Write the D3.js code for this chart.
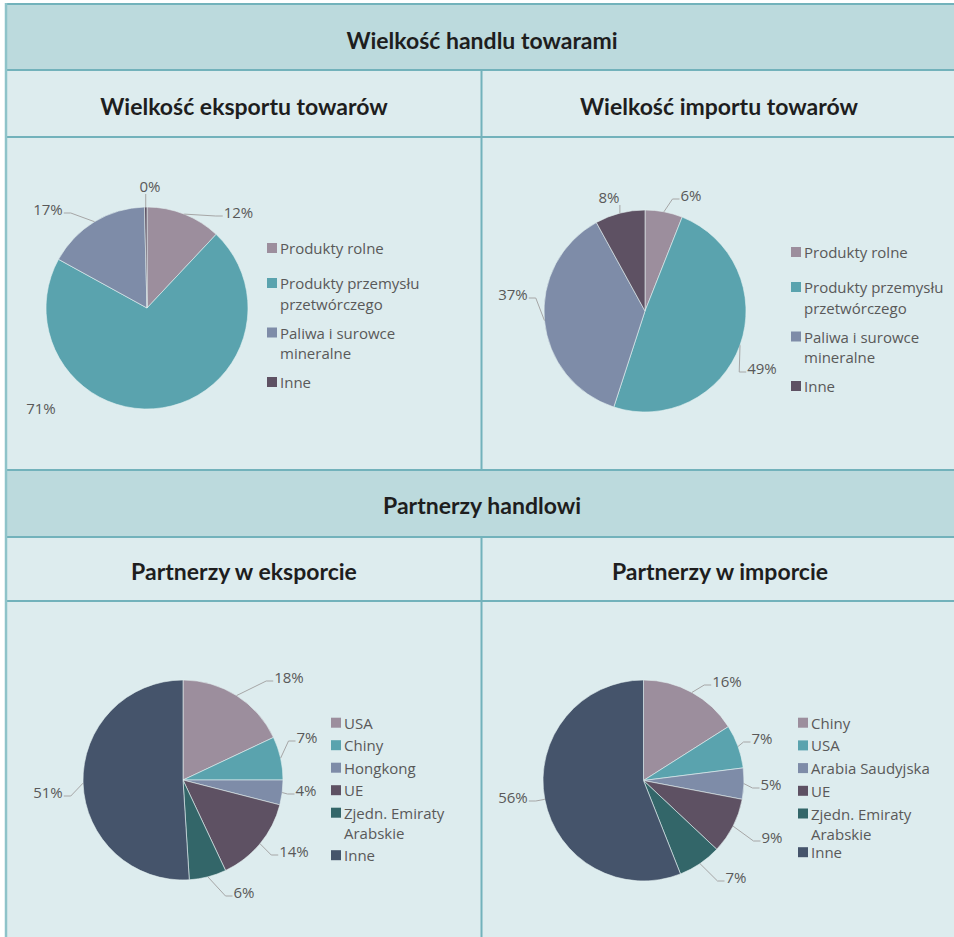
<!DOCTYPE html>
<html>
<head>
<meta charset="utf-8">
<script src="https://cdn.jsdelivr.net/npm/d3@7"></script>
<style>
  body { margin: 0; background: #ffffff; }
  svg { display: block; }
</style>
</head>
<body>
<svg id="chart" width="954" height="937"></svg>
<script>
// ---- data ----
const goodsCategories = ["Produkty rolne", "Produkty przemysłu przetwórczego", "Paliwa i surowce mineralne", "Inne"];
const exportGoodsShares = [12, 71, 16.6, 0.4];
const importGoodsShares = [6, 49, 37, 8];

const exportPartners = ["USA", "Chiny", "Hongkong", "UE", "Zjedn. Emiraty Arabskie", "Inne"];
const exportPartnerShares = [18, 7, 4, 14, 6, 51];

const importPartners = ["Chiny", "USA", "Arabia Saudyjska", "UE", "Zjedn. Emiraty Arabskie", "Inne"];
const importPartnerShares = [16, 7, 5, 9, 7, 56];

const sectionTitles = ["Wielkość handlu towarami", "Partnerzy handlowi"];
const panelTitles = ["Wielkość eksportu towarów", "Wielkość importu towarów", "Partnerzy w eksporcie", "Partnerzy w imporcie"];

// ---- styling ----
const palette = ["#9c8e9d", "#5aa3ae", "#7e8ca8", "#5e5163", "#336669", "#45546b"];
const bandDark = "#bcdadd";
const bandLight = "#ddecee";
const ruleColor = "#72b2bb";
const labelFont = "'Open Sans', 'Noto Sans', sans-serif";
const titleFont = "Lato, 'Noto Sans', sans-serif";
const textGrey = "#595959";
const labelSize = 15;

const svg = d3.select("#chart");

// ---- table frame ----
const frameLeft = 6, frameRight = 954, divX = 481.5;
const rows = [
  { y0: 4,   y1: 70,  fill: bandDark },
  { y0: 70,  y1: 137, fill: bandLight },
  { y0: 137, y1: 470, fill: bandLight },
  { y0: 470, y1: 537, fill: bandDark },
  { y0: 537, y1: 601, fill: bandLight },
  { y0: 601, y1: 937, fill: bandLight }
];
svg.selectAll("rect.row").data(rows).join("rect")
  .attr("class", "row")
  .attr("x", frameLeft).attr("y", d => d.y0)
  .attr("width", frameRight - frameLeft).attr("height", d => d.y1 - d.y0)
  .attr("fill", d => d.fill);

// horizontal rules
svg.selectAll("line.hrule").data([4, 70, 137, 470, 537, 601]).join("line")
  .attr("class", "hrule")
  .attr("x1", frameLeft).attr("x2", frameRight)
  .attr("y1", d => d).attr("y2", d => d)
  .attr("stroke", ruleColor).attr("stroke-width", 2);
// vertical dividers between the two panels
svg.selectAll("line.vrule").data([[70, 470], [537, 937]]).join("line")
  .attr("class", "vrule")
  .attr("x1", divX).attr("x2", divX)
  .attr("y1", d => d[0]).attr("y2", d => d[1])
  .attr("stroke", ruleColor).attr("stroke-width", 2);
// outer left edge
svg.append("line")
  .attr("x1", frameLeft).attr("x2", frameLeft).attr("y1", 3).attr("y2", 937)
  .attr("stroke", "#8ec3c9").attr("stroke-width", 2.5);

// ---- headings ----
const headings = [
  { text: sectionTitles[0], x: 482, y: 40 },
  { text: panelTitles[0], x: 244, y: 106 },
  { text: panelTitles[1], x: 719, y: 106 },
  { text: sectionTitles[1], x: 482, y: 505 },
  { text: panelTitles[2], x: 244, y: 571 },
  { text: panelTitles[3], x: 720, y: 571 }
];
svg.selectAll("text.heading").data(headings).join("text")
  .attr("class", "heading")
  .attr("x", d => d.x).attr("y", d => d.y)
  .attr("text-anchor", "middle").attr("dominant-baseline", "central")
  .attr("font-family", titleFont).attr("font-weight", 700)
  .attr("font-size", 23).attr("fill", "#1e1e1e")
  .text(d => d.text);

// ---- pie panels ----
// label spots: offset of the label centre from the pie centre, and how the leader is drawn
const panels = [
  {
    names: goodsCategories, values: exportGoodsShares,
    cx: 147, cy: 308, r: 101,
    legend: { x: 267, y: 248, maxWidth: 150, step0: 20.5, stepLine: 14.5, lineH: 20.5 },
    spots: [[91.5, -96, "h"], [-106, 100, null], [-99, -99, "h"], [3, -122, "v"]]
  },
  {
    names: goodsCategories, values: importGoodsShares,
    cx: 645, cy: 311, r: 101,
    legend: { x: 791, y: 252, maxWidth: 150, step0: 20.5, stepLine: 14.5, lineH: 20.5 },
    spots: [[46, -116, "h"], [117, 57, "h"], [-132, -17, "h"], [-36, -114, "v"]]
  },
  {
    names: exportPartners, values: exportPartnerShares,
    cx: 183, cy: 780, r: 100,
    legend: { x: 331, y: 722.7, maxWidth: 140, step0: 2.5, stepLine: 20, lineH: 20.3 },
    spots: [[106, -103, "h"], [124, -43, "h"], [123, 10, "h"], [111, 71, "h"], [61, 112, "h"], [-135, 12, "h"]]
  },
  {
    names: importPartners, values: importPartnerShares,
    cx: 643.5, cy: 780.5, r: 100.5,
    legend: { x: 798, y: 722.7, maxWidth: 140, step0: 6.7, stepLine: 16, lineH: 20 },
    spots: [[83.5, -99.5, "h"], [118.5, -42.5, "h"], [127.5, 3.5, "h"], [128.5, 56.5, "h"], [92.5, 96.5, "h"], [-130.5, 16.5, "h"]]
  }
];

const pie = d3.pie().sort(null).value(d => d.value).startAngle(0).endAngle(2 * Math.PI);

panels.forEach(p => {
  const data = p.names.map((name, i) => ({ name, value: p.values[i], color: palette[i] }));
  const arcs = pie(data);
  const arc = d3.arc().innerRadius(0).outerRadius(p.r);
  const g = svg.append("g").attr("transform", `translate(${p.cx},${p.cy})`);

  g.selectAll("path.slice").data(arcs).join("path")
    .attr("class", "slice")
    .attr("d", arc)
    .attr("fill", d => d.data.color)
    .attr("stroke", "#e4f1f2").attr("stroke-width", 0.6);

  // data labels with leader lines
  arcs.forEach((a, i) => {
    const [dx, dy, mode] = p.spots[i];
    const mid = (a.startAngle + a.endAngle) / 2;
    const ex = p.r * Math.sin(mid), ey = -p.r * Math.cos(mid);
    const label = g.append("text")
      .attr("x", dx).attr("y", dy)
      .attr("text-anchor", "middle").attr("dominant-baseline", "central")
      .attr("font-family", labelFont).attr("font-size", labelSize).attr("fill", textGrey)
      .text(Math.round(a.data.value) + "%");
    if (!mode) return;
    const w = label.node().getComputedTextLength();
    let pts;
    if (mode === "h") {
      const side = dx > ex ? -1 : 1;
      const endX = dx + side * (w / 2 + 1);
      const endY = dy + 4;
      pts = [[ex, ey], [endX + side * 7, endY], [endX, endY]];
    } else {
      pts = [[ex, ey], [ex, dy + 8]];
    }
    g.insert("path", "text")
      .attr("d", d3.line()(pts))
      .attr("fill", "none").attr("stroke", "#a6a6a6").attr("stroke-width", 1);
  });

  // legend
  const L = p.legend;
  let y = L.y;
  data.forEach(d => {
    const t = svg.append("text")
      .attr("x", L.x + 13).attr("y", y)
      .attr("dominant-baseline", "central")
      .attr("font-family", labelFont).attr("font-size", labelSize).attr("fill", textGrey);
    // wrap the entry text to the legend width
    const words = d.name.split(" ");
    let lines = [], cur = "";
    words.forEach(wd => {
      const trial = cur ? cur + " " + wd : wd;
      t.text(trial);
      if (t.node().getComputedTextLength() > L.maxWidth && cur) {
        lines.push(cur); cur = wd;
      } else cur = trial;
    });
    lines.push(cur);
    t.text(null);
    lines.forEach((ln, k) => {
      t.append("tspan").attr("x", L.x + 13).attr("y", y + k * L.lineH).text(ln);
    });
    svg.append("rect")
      .attr("x", L.x).attr("y", y - 5).attr("width", 10).attr("height", 10)
      .attr("fill", d.color);
    y += L.step0 + L.stepLine * lines.length;
  });
});
</script>
</body>
</html>
